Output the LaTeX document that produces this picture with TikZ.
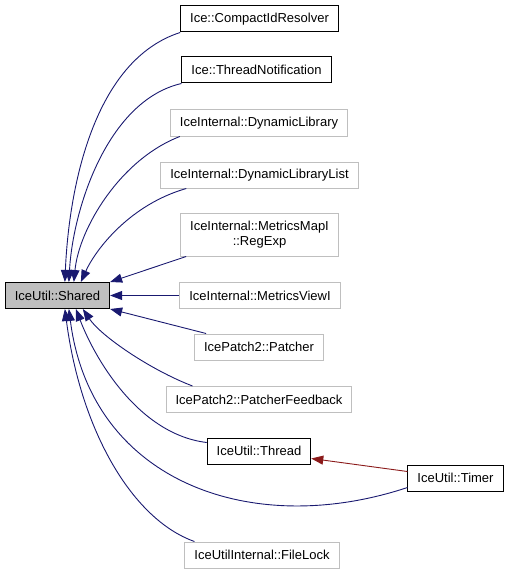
\documentclass[tikz,border=0pt]{standalone}
\usepackage{fontspec}
\setmainfont{Liberation Sans}
\usepackage{xcolor}
\usepackage{tikz}
\usetikzlibrary{arrows.meta}
\definecolor{ErbtBlau}{HTML}{191970}
\definecolor{NutztRot}{HTML}{8B1A1A}
\definecolor{Rahmengrau}{HTML}{BFBFBF}
\tikzset{
  Klasse/.style={draw=#1,line width=1pt,minimum height=26pt,inner xsep=9.5pt,inner ysep=2pt}, % für Klassenboxen
  Klasse/.default=black,
  Erbt/.style={draw=ErbtBlau,line width=0.9pt,<-}, % für Vererbungspfeile
  Nutzt/.style={draw=NutztRot,line width=0.9pt,<-} % für Nutzungspfeile
}

\begin{document}
\begin{tikzpicture}[
x=1pt,y=-1pt,
font=\fontsize{13}{14.5}\selectfont,
>={Triangle[length=12pt,width=9pt]} % Voreinstellung für Pfeilspitzen
]
\useasboundingbox (0,0) rectangle (510,575);

%Klassen
\node[Klasse,fill=Rahmengrau] (Shared) at (57.5,295.5) {IceUtil::Shared};
\node[Klasse] (Compact) at (259.5,19) {Ice::CompactIdResolver};
\node[Klasse] (ThrNotif) at (256.5,70) {Ice::ThreadNotification};
\node[Klasse=Rahmengrau] (DynLib) at (259,123) {IceInternal::DynamicLibrary};
\node[Klasse=Rahmengrau] (DynLibList) at (259.5,175) {IceInternal::DynamicLibraryList};
\node[Klasse=Rahmengrau,align=center,minimum height=43pt] (RegExp) at (259.5,234.5) {IceInternal::MetricsMapI\\::RegExp};
\node[Klasse=Rahmengrau] (MetrView) at (260,295.5) {IceInternal::MetricsViewI};
\node[Klasse=Rahmengrau] (Patcher) at (259,347) {IcePatch2::Patcher};
\node[Klasse=Rahmengrau] (PatchFb) at (259,399.5) {IcePatch2::PatcherFeedback};
\node[Klasse] (Thread) at (259,451) {IceUtil::Thread};
\node[Klasse] (Timer) at (455.5,478) {IceUtil::Timer};
\node[Klasse=Rahmengrau] (FileLock) at (262,555) {IceUtilInternal::FileLock};

%Vererbung nach oben
\draw[Erbt] ([xshift=60pt]Shared.north west) .. controls +(4,-93) and +(-87,28) .. (Compact.south west);
\draw[Erbt] ([xshift=64pt]Shared.north west) .. controls +(4,-73) and +(-74,17) .. (ThrNotif.south west);
\draw[Erbt] ([xshift=69pt]Shared.north west) .. controls +(5,-53) and +(-60,23) .. ([xshift=10pt]DynLib.south west);
\draw[Erbt] ([xshift=76pt]Shared.north west) .. controls +(15,-33) and +(-56,16) .. ([xshift=26pt]DynLibList.south west);
\draw[Erbt] (Shared.north east) -- ([xshift=6pt]RegExp.south west);
\draw[Erbt] (Shared.east) -- (MetrView.west);

%Vererbung nach unten
\draw[Erbt] (Shared.south east) -- ([xshift=12pt]Patcher.north west);
\draw[Erbt] ([xshift=78pt]Shared.south west) .. controls +(18,27) and +(-42,-16) .. ([xshift=27pt]PatchFb.north west);
\draw[Erbt] ([xshift=71pt]Shared.south west) .. controls +(20,52) and +(-67,-8) .. ([yshift=-5pt]Thread.north west);
\draw[Erbt] ([xshift=64pt]Shared.south west) .. controls +(22,172) and +(-157,52) .. ([yshift=4pt]Timer.south west);
\draw[Erbt] ([xshift=60pt]Shared.south west) .. controls +(16,122) and +(-62,-22) .. ([xshift=10pt]FileLock.north west);

%Nutzung
\draw[Nutzt] ([yshift=6pt]Thread.south east) -- ([yshift=-7pt]Timer.north west);

\end{tikzpicture}
\end{document}
